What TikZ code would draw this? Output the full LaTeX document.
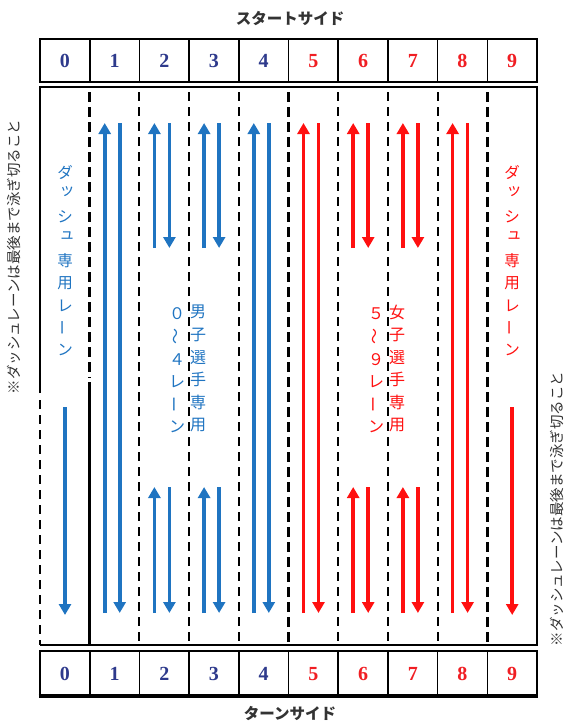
\documentclass[tikz,border=0pt]{standalone}
\usepackage{fontspec}
\setmainfont{Liberation Serif}
\newfontfamily\jp{Noto Sans CJK JP}
\usetikzlibrary{arrows.meta}
\definecolor{lblue}{HTML}{1F74C1}
\definecolor{lred}{HTML}{FF1010}
\definecolor{navy}{HTML}{2E3A8C}
\definecolor{numred}{HTML}{F01E23}
\definecolor{txt}{HTML}{333333}
\tikzset{
  arr/.style={line width=3.6pt,-{Triangle[width=12pt,length=11pt]}},
  thickdash/.style={line width=3.4pt,dash pattern=on 10pt off 5pt},
  thindash/.style={line width=2pt,dash pattern=on 9pt off 6pt},
  border/.style={line width=2.8pt},
  sep/.style={line width=1.6pt},
  num/.style={font=\fontsize{20}{20}\selectfont\bfseries,inner sep=0pt},
  lanetxt/.style={font=\jp\fontsize{15.5}{15.5}\selectfont,inner sep=0pt},
  midtxt/.style={font=\jp\fontsize{16}{16}\selectfont,inner sep=0pt},
  sidetxt/.style={font=\jp\fontsize{14.5}{14.5}\selectfont,text=txt,inner sep=0pt,rotate=90},
  head/.style={font=\jp\bfseries\fontsize{15.5}{15.5}\selectfont,text=txt,inner sep=0pt},
  small/.style={xshift=2pt,yshift=3pt},
  n/.style={},
  vr/.style={rotate=90}
}
\begin{document}
\begin{tikzpicture}[x=1pt,y=-1pt]
\useasboundingbox (0,0) rectangle (571,725);
% headings
\node[head] (start) at (290,19) {スタートサイド};
\node[head] (turn) at (290,714) {ターンサイド};
% side notes
\node[sidetxt] (noteL) at (14,257) {※ダッシュレーンは最後まで泳ぎ切ること};
\node[sidetxt] (noteR) at (557,509) {※ダッシュレーンは最後まで泳ぎ切ること};
% top and bottom tables
\draw[border] (40,39) rectangle (537,82);
\draw[border] (40,651) rectangle (537,696);
\draw[line width=3.6pt] (38.6,696) -- (538.4,696);
\foreach \i in {1,...,9}{
  \draw[sep] ({40+49.7*\i},39) -- ({40+49.7*\i},82);
  \draw[sep] ({40+49.7*\i},651) -- ({40+49.7*\i},696);
}
\foreach \i in {0,...,9}{
  \pgfmathtruncatemacro\isred{\i>4}
  \ifnum\isred=1 \def\nc{numred}\else\def\nc{navy}\fi
  \node[num,text=\nc] (t\i) at ({40+49.7*\i+24.85},61) {\i};
  \node[num,text=\nc] (b\i) at ({40+49.7*\i+24.85},674) {\i};
}
% pool outline
\draw[border] (40,393) -- (40,87) -- (537,87) -- (537,645) -- (40,645);
\draw[line width=2.6pt,dash pattern=on 9pt off 6pt] (40,400) -- (40,645);
% lane lines
\draw[thickdash] (89.7,92) -- (89.7,378);
\draw[line width=3pt] (89.7,382) -- (89.7,645);
\foreach \i in {5,9}{
  \draw[thickdash] ({40+49.7*\i},92) -- ({40+49.7*\i},645);
}
\foreach \i in {2,3,4,6,7,8}{
  \draw[thindash] ({40+49.7*\i},92) -- ({40+49.7*\i},645);
}
% arrows
\foreach \i/\c in {1/lblue,4/lblue,5/lred,8/lred}{
  \draw[arr,\c] ({40+49.7*\i+15},613) -- ({40+49.7*\i+15},123);
  \draw[arr,\c] ({40+49.7*\i+30},123) -- ({40+49.7*\i+30},613);
}
\foreach \i/\c in {2/lblue,3/lblue,6/lred,7/lred}{
  \draw[arr,\c] ({40+49.7*\i+15},248) -- ({40+49.7*\i+15},123);
  \draw[arr,\c] ({40+49.7*\i+30},123) -- ({40+49.7*\i+30},248);
  \draw[arr,\c] ({40+49.7*\i+15},613) -- ({40+49.7*\i+15},487);
  \draw[arr,\c] ({40+49.7*\i+30},487) -- ({40+49.7*\i+30},613);
}
\draw[arr,lblue] (65,407) -- (65,615);
\draw[arr,lred] (512.2,407) -- (512.2,615);
% dash lane texts
\foreach \ch/\op [count=\k from 0] in {ダ/n,ッ/small,シ/n,ュ/small,専/n,用/n,レ/n,ー/vr,ン/n}{
  \node[lanetxt,text=lblue,\op] (dl\k) at (65,{172+22.25*\k}) {\ch};
  \node[lanetxt,text=lred,\op] (dr\k) at (512.2,{172+22.25*\k}) {\ch};
}
% men / women texts
\foreach \ch [count=\k from 0] in {男,子,選,手,専,用}{
  \node[midtxt,text=lblue] (m\k) at (198,{312+22.6*\k}) {\ch};
}
\foreach \ch [count=\k from 0] in {女,子,選,手,専,用}{
  \node[midtxt,text=lred] (w\k) at (397,{312+22.6*\k}) {\ch};
}
\foreach \ch/\op [count=\k from 0] in {０/n,〜/vr,４/n,レ/n,ー/vr,ン/n}{
  \node[midtxt,text=lblue,\op] (ml\k) at (177,{314+22.6*\k}) {\ch};
}
\foreach \ch/\op [count=\k from 0] in {５/n,〜/vr,９/n,レ/n,ー/vr,ン/n}{
  \node[midtxt,text=lred,\op] (wl\k) at (376,{314+22.6*\k}) {\ch};
}
\end{tikzpicture}
\end{document}
